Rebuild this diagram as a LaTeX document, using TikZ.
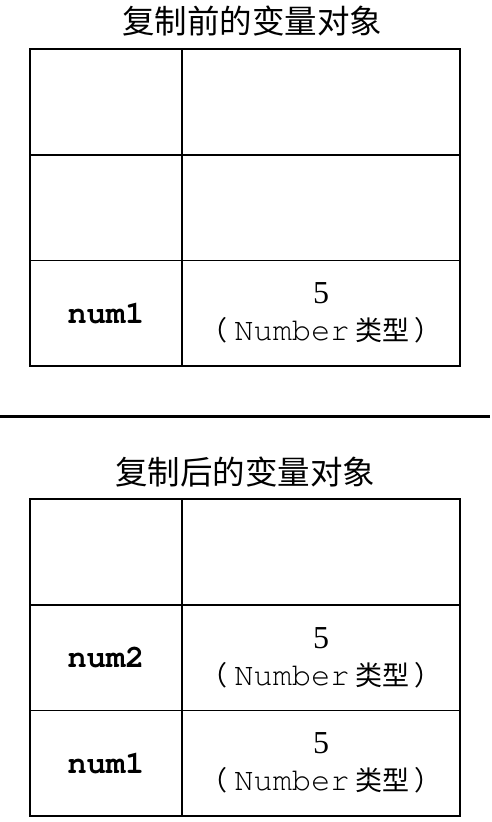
\documentclass[tikz,border=0pt]{standalone}
\usepackage{fontspec}
\setmainfont{Liberation Serif}
\setmonofont{texgyrecursor}[Extension=.otf,UprightFont=*-regular,BoldFont=*-bold]
\newfontfamily\cjk{Noto Sans CJK SC}
\usetikzlibrary{positioning}
\tikzset{
    Key/.style = {draw,line width=1.6pt,outer sep=0pt,inner sep=0pt,
        minimum width=152pt,minimum height=105.7pt,
        font=\fontsize{32}{32}\selectfont\ttfamily\bfseries},
    Val/.style = {draw,line width=1.6pt,outer sep=0pt,inner sep=0pt,
        minimum width=278pt,minimum height=105.7pt,align=center,
        font=\fontsize{32}{37}\selectfont},
    Title/.style = {font=\fontsize{32.5}{33}\selectfont\cjk}
}
\newcommand{\numval}{{\fontsize{32}{37}\selectfont 5}\\{\cjk\fontsize{27}{37}\selectfont （\hspace{7pt}}{\fontsize{32}{37}\selectfont\ttfamily Number}{\cjk\fontsize{27}{37}\selectfont\ 类型\hspace{5pt}）}}

\begin{document}
\begin{tikzpicture}[x=1pt,y=-1pt]
    \useasboundingbox (0,0) rectangle (492,822);
    % before copying
    \node[Title] (T1) at (252,21) {复制前的变量对象};
    \node[Key,anchor=north west] (A1) at (30,49) {};
    \node[Key,below=0pt of A1] (A2) {};
    \node[Key,below=0pt of A2] (A3) {num1};
    \node[Val,right=0pt of A1] (B1) {};
    \node[Val,right=0pt of A2] (B2) {};
    \node[Val,right=0pt of A3] (B3) {\numval};
    % separator
    \coordinate (SL) at (0,416);
    \coordinate (SR) at (490,416);
    \draw[line width=3pt] (SL) -- (SR);
    % after copying
    \node[Title] (T2) at (245,472) {复制后的变量对象};
    \node[Key,anchor=north west] (C1) at (30,499) {};
    \node[Key,below=0pt of C1] (C2) {num2};
    \node[Key,below=0pt of C2] (C3) {num1};
    \node[Val,right=0pt of C1] (D1) {};
    \node[Val,right=0pt of C2] (D2) {\numval};
    \node[Val,right=0pt of C3] (D3) {\numval};
\end{tikzpicture}
\end{document}
